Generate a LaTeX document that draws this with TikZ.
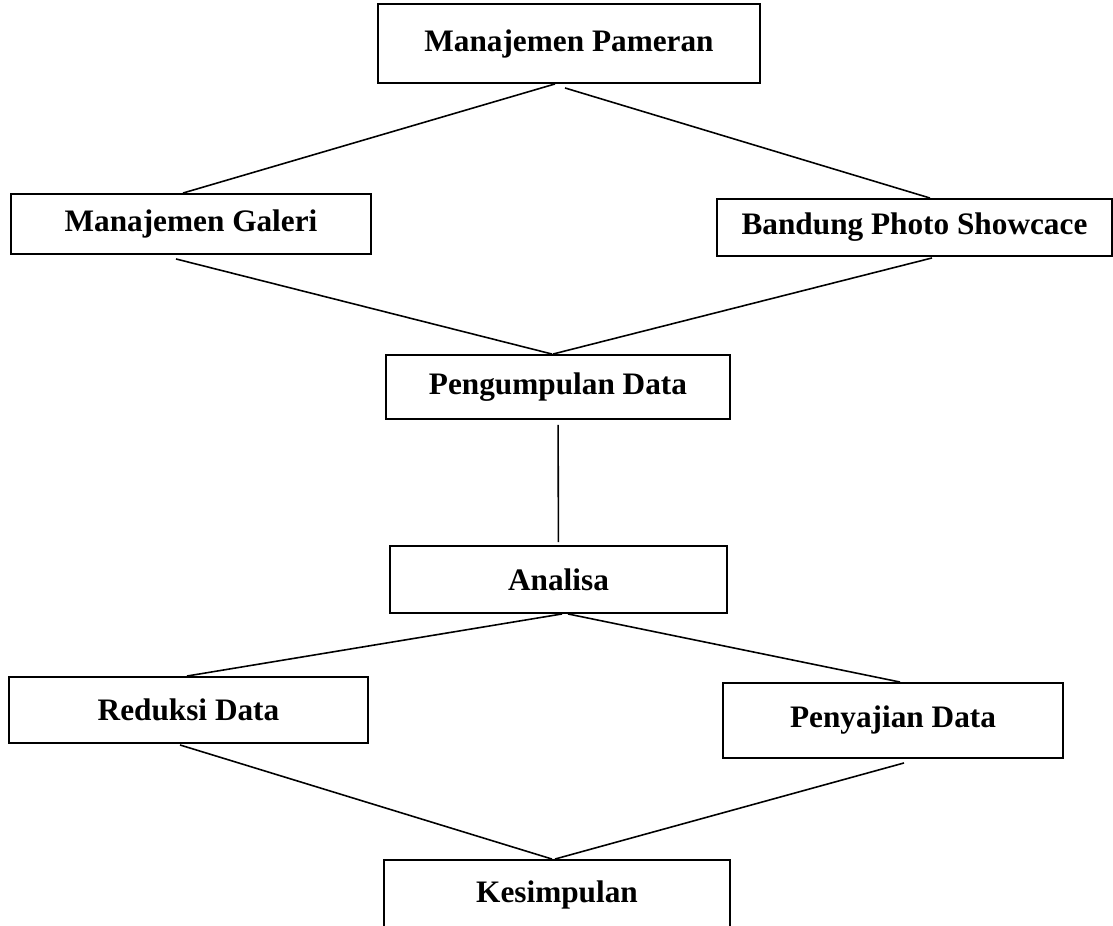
\documentclass[tikz,border=0pt]{standalone}
\usepackage{fontspec}
\setmainfont{Liberation Serif}
\usetikzlibrary{calc}

\tikzset{
    kotak/.style 2 args={draw, line width=1.1pt, rectangle, inner sep=0pt,
        minimum width=#1*0.02cm, minimum height=#2*0.02cm,
        font=\fontsize{17.8}{21}\selectfont\bfseries},
    garis/.style={line width=0.9pt}
}

\begin{document}
\begin{tikzpicture}[x=0.02cm, y=-0.02cm]
    \useasboundingbox (0,0) rectangle (1113,926);

    % === Kotak-kotak ===
    \node[kotak={382}{79}] (pameran) at (569,43.5) {Manajemen Pameran};
    \node[kotak={360}{60}] (galeri) at (191,224) {Manajemen Galeri};
    \node[kotak={395}{57}] (bandung) at (914.5,227.5) {Bandung Photo Showcace};
    \node[kotak={344}{64}] (pengumpulan) at (558,387) {Pengumpulan Data};
    \node[kotak={337}{67}] (analisa) at (558.5,579.5) {Analisa};
    \node[kotak={359}{66}] (reduksi) at (188.5,710) {Reduksi Data};
    \node[kotak={340}{75}] (penyajian) at (893,720.5) {Penyajian Data};
    % kotak terakhir terpotong di tepi bawah
    \node[kotak={346}{70}] (kesimpulan) at (557,895) {Kesimpulan};

    % === Garis penghubung ===
    \draw[garis] ($(pameran.south)+(-14,0)$) -- ($(galeri.north)+(-8,0)$);
    \draw[garis] ($(pameran.south)+(-4,4)$) -- ($(bandung.north)+(15.5,0)$);

    \draw[garis] ($(galeri.south)+(-15,4)$) -- ($(pengumpulan.north)+(-6,0)$);
    \draw[garis] ($(bandung.south)+(17.5,1)$) -- ($(pengumpulan.north)+(-5,0)$);

    \draw[garis, shorten <=0.1cm, shorten >=0.06cm] (pengumpulan) -- (analisa);

    \draw[garis] ($(analisa.south)+(3.5,0)$) -- ($(reduksi.north)+(-1.5,0)$);
    \draw[garis] ($(analisa.south)+(9.5,0)$) -- ($(penyajian.north)+(7,0)$);

    \draw[garis] ($(reduksi.south)+(-8.5,1)$) -- ($(kesimpulan.north)+(-5,0)$);
    \draw[garis] ($(penyajian.south)+(11,4)$) -- ($(kesimpulan.north)+(-2,0)$);
\end{tikzpicture}
\end{document}
